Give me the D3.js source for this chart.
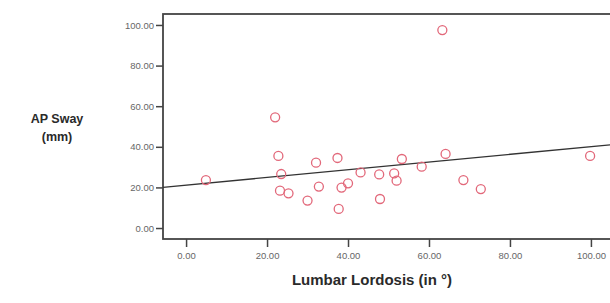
<!DOCTYPE html>
<html>
<head>
<meta charset="utf-8">
<script src="https://cdn.jsdelivr.net/npm/d3@7"></script>
<style>
  body { margin: 0; background: #fff; }
  svg { display: block; }
  text { font-family: "Liberation Sans", Arial, sans-serif; }
</style>
</head>
<body>
<svg id="chart" width="610" height="303"></svg>
<script>
// lumbar lordosis (deg) vs AP sway (mm)
var lordosis = [63.3, 22.0, 4.9, 22.8, 23.5, 23.2, 25.3, 30.0, 32.1, 32.8, 37.4, 37.7, 38.4, 40.0,
    43.1, 47.7, 47.9, 51.4, 52.0, 53.3, 58.2, 64.1, 68.5, 72.8, 99.8];
var apSway = [97.5, 54.5, 23.6, 35.5, 26.6, 18.4, 17.1, 13.5, 32.2, 20.4, 34.5, 9.4, 19.9, 22.0,
    27.4, 26.4, 14.3, 26.9, 23.3, 34.0, 30.2, 36.5, 23.6, 19.2, 35.5];
var xTicks = [0, 20, 40, 60, 80, 100];
var yTicks = [0, 20, 40, 60, 80, 100];
var fitLine = [21.1, 0.19]; // intercept, slope

var svg = d3.select('#chart');
var plot = { left: 163, top: 14, right: 614, bottom: 239 };

var x = d3.scaleLinear().domain([-5.7, 105.7]).range([plot.left, plot.right]);
var y = d3.scaleLinear().domain([-5.4, 105.4]).range([plot.bottom, plot.top]);

// frame
svg.append('rect')
    .attr('x', plot.left).attr('y', plot.top)
    .attr('width', plot.right - plot.left).attr('height', plot.bottom - plot.top)
    .attr('fill', 'none').attr('stroke', '#444').attr('stroke-width', 1.8);

var fmt = d3.format('.2f');

var yAxis = svg.append('g')
    .attr('transform', `translate(${plot.left},0)`)
    .call(d3.axisLeft(y).tickValues(yTicks).tickFormat(fmt).tickSize(7).tickPadding(2));
var xAxis = svg.append('g')
    .attr('transform', `translate(0,${plot.bottom})`)
    .call(d3.axisBottom(x).tickValues(xTicks).tickFormat(fmt).tickSize(8).tickPadding(5));

[xAxis, yAxis].forEach(ax => {
    ax.select('.domain').remove();
    ax.selectAll('line').attr('stroke', '#444').attr('stroke-width', 1.5);
    ax.selectAll('text').attr('fill', '#666').style('font-size', '9.5px')
        .style('font-family', '"Liberation Sans", Arial, sans-serif');
});

// regression line
var x0 = x.domain()[0], x1 = x.domain()[1];
svg.append('line')
    .attr('x1', x(x0)).attr('y1', y(fitLine[0] + fitLine[1] * x0))
    .attr('x2', x(x1)).attr('y2', y(fitLine[0] + fitLine[1] * x1))
    .attr('stroke', '#333').attr('stroke-width', 1.3);

// points
svg.append('g').selectAll('circle')
    .data(lordosis)
    .join('circle')
    .attr('cx', d => x(d))
    .attr('cy', (d, i) => y(apSway[i]))
    .attr('r', 4.5)
    .attr('fill', 'none')
    .attr('stroke', '#e2687a')
    .attr('stroke-width', 1.3);

// titles
svg.append('text')
    .attr('x', 372).attr('y', 285)
    .attr('text-anchor', 'middle')
    .style('font-size', '15px').style('font-weight', 'bold').attr('fill', '#2a2a2a')
    .text('Lumbar Lordosis (in °)');

var yt = svg.append('text')
    .attr('text-anchor', 'middle')
    .style('font-size', '12.5px').style('font-weight', 'bold').attr('fill', '#2a2a2a');
yt.append('tspan').attr('x', 57).attr('y', 123).text('AP Sway');
yt.append('tspan').attr('x', 57).attr('y', 141).text('(mm)');
</script>
</body>
</html>
